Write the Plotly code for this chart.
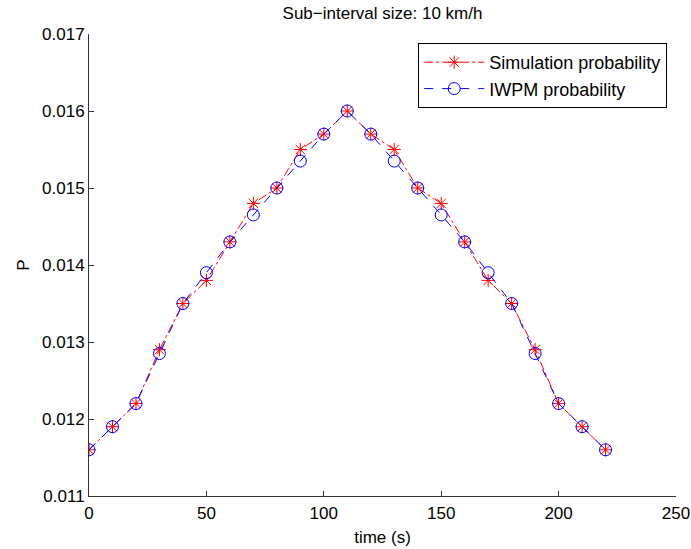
import plotly.graph_objects as go

time_s = [0, 10, 20, 30, 40, 50, 60, 70, 80, 90, 100, 110, 120, 130, 140, 150, 160, 170, 180, 190, 200, 210, 220]
sim_prob = [0.0116, 0.0119, 0.0122, 0.0129, 0.0135, 0.0138, 0.0143, 0.0148, 0.0150, 0.0155, 0.0157, 0.0160,
            0.0157, 0.0155, 0.0150, 0.0148, 0.0143, 0.0138, 0.0135, 0.0129, 0.0122, 0.0119, 0.0116]
iwpm_prob = [0.0116, 0.0119, 0.0122, 0.01285, 0.0135, 0.0139, 0.0143, 0.01465, 0.0150, 0.01535, 0.0157, 0.0160,
             0.0157, 0.01535, 0.0150, 0.01465, 0.0143, 0.0139, 0.0135, 0.01285, 0.0122, 0.0119, 0.0116]
x_ticks = [0, 50, 100, 150, 200, 250]
y_ticks = [0.011, 0.012, 0.013, 0.014, 0.015, 0.016, 0.017]

FONT = "Liberation Sans, Arial, Helvetica, sans-serif"

fig = go.Figure()
fig.add_trace(go.Scatter(
    x=time_s, y=sim_prob, mode="lines+markers", name="Simulation probability",
    line=dict(color="red", width=1, dash="dashdot"),
    marker=dict(symbol="asterisk-open", size=11, color="red", line=dict(color="red", width=1)),
))
fig.add_trace(go.Scatter(
    x=time_s, y=iwpm_prob, mode="lines+markers", name="IWPM probability",
    line=dict(color="blue", width=1, dash="dash"),
    marker=dict(symbol="circle-open", size=12, color="blue", line=dict(color="blue", width=1)),
))

axis_common = dict(
    showgrid=False, zeroline=False, showline=True, linecolor="#333333", linewidth=1,
    ticks="inside", ticklen=5, tickcolor="#333333", mirror=False, automargin=False,
    tickfont=dict(family=FONT, size=17, color="black"),
)
fig.update_xaxes(range=[0, 250], tickvals=x_ticks, ticktext=[str(v) for v in x_ticks],
                 ticklabelstandoff=2,
                 title=dict(text="time (s)", font=dict(family=FONT, size=17, color="black"), standoff=8),
                 **axis_common)
fig.update_yaxes(range=[0.011, 0.017], tickvals=y_ticks, ticktext=[f"{v:.3f}" for v in y_ticks],
                 title=dict(text="P", font=dict(family=FONT, size=17, color="black"), standoff=8),
                 **axis_common)

fig.update_layout(
    width=691, height=549,
    margin=dict(l=89, r=15, t=34, b=53),
    plot_bgcolor="white", paper_bgcolor="white",
    title=dict(text="Sub\u2212interval size: 10 km/h", x=(89 + 676) / 2 / 691, xanchor="center",
               y=1 - 13 / 549, yanchor="middle", font=dict(family=FONT, size=17, color="black")),
    legend=dict(x=0.985, y=0.9805, xanchor="right", yanchor="top",
                bordercolor="black", borderwidth=1, bgcolor="white", itemwidth=60,
                font=dict(family=FONT, size=18, color="black"), tracegroupgap=0),
    showlegend=True,
)

fig.write_html("out.html")
